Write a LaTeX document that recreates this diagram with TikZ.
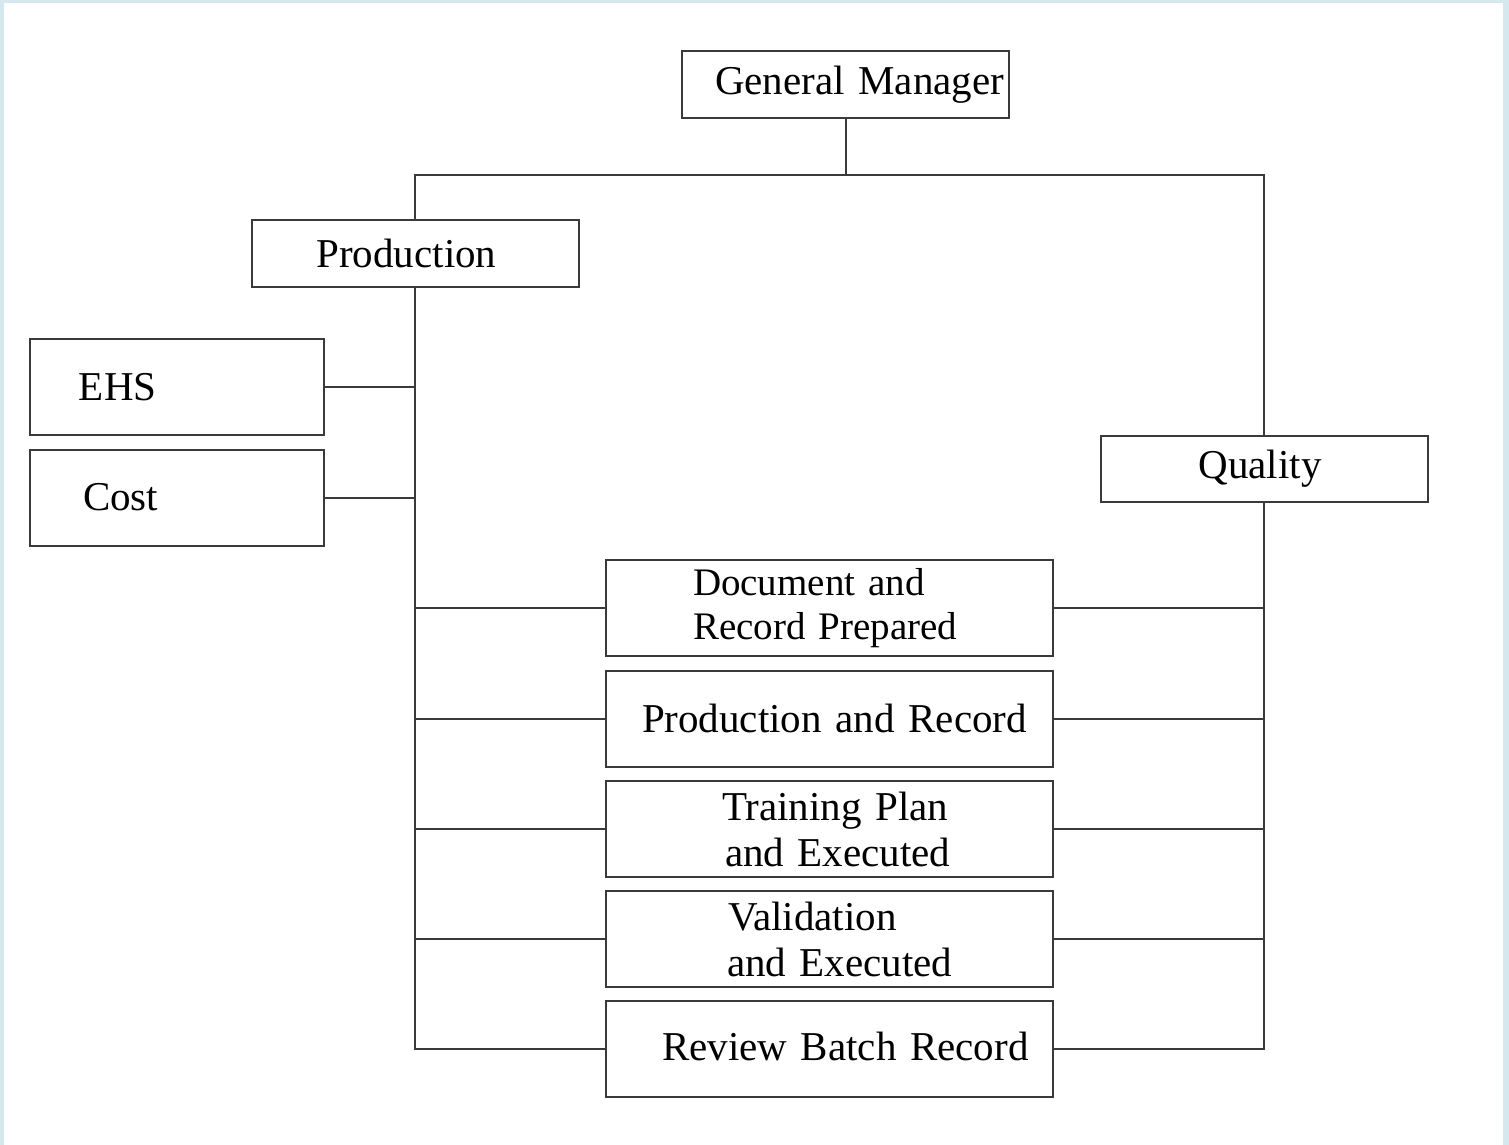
\documentclass[tikz,border=0pt]{standalone}
\usepackage{fontspec}
\setmainfont{Liberation Serif}
\definecolor{framebg}{HTML}{D4E8EE}
\definecolor{linegray}{HTML}{3A3A3A}

\tikzset{
  box/.style={draw=linegray, line width=1pt, inner xsep=0pt, inner ysep=0pt,
    align=left, font=\fontsize{20.5}{23}\selectfont},
  topbox/.style={box, text width=163.5pt, minimum height=33.5pt},
  sidebox/.style={box, text width=147pt, minimum height=48pt},
  taskbox/.style={box, text width=223.5pt, minimum height=48pt},
  link/.style={draw=linegray, line width=1pt},
}

\begin{document}
\begin{tikzpicture}[x=0.5pt,y=-0.5pt]
    % Frame
    \useasboundingbox (0,0) rectangle (1509,1145);
    \fill[framebg] (0,0) rectangle (1509,1145);
    \fill[white] (4,3) rectangle (1503,1145);

    % Main Boxes
    \node[topbox] (gm) at (845.5,84.5) {\hspace*{16.5pt}General Manager};
    \node[topbox] (prod) at (415,253.5) {\hspace*{32.5pt}Production};
    \node[topbox, minimum height=33pt] (qual) at (1264,469) {\hspace*{49pt}\raisebox{-1.5pt}{Quality}};

    % -- left side
    \node[sidebox] (ehs) at (177,387) {\hspace*{24.5pt}EHS};
    \node[sidebox] (cost) at (177,497.5) {\hspace*{26.5pt}\raisebox{-1.5pt}{Cost}};

    % -- tasks
    \node[taskbox, font=\fontsize{19.5}{22}\selectfont] (doc) at (829.5,608)
        {\hspace*{43.5pt}Document and\\\hspace*{43.5pt}Record Prepared};
    \node[taskbox] (prec) at (829.5,718.5) {\hspace*{18pt}Production and Record};
    \node[taskbox] (train) at (829.5,829) {\hspace*{58pt}Training Plan\\\hspace*{59.5pt}and Executed};
    \node[taskbox] (valid) at (829.5,939) {\hspace*{61pt}Validation\\\hspace*{60.5pt}and Executed};
    \node[taskbox] (rev) at (829.5,1049) {\hspace*{28pt}\raisebox{3pt}{Review Batch Record}};

    % Connectors
    \coordinate (bus) at (845.5,175);
    \draw[link] (gm.south) -- (bus);
    \draw[link] (prod.north) |- (bus) -| (qual.north);
    \draw[link] (prod.south) |- (rev.west);
    \draw[link] (qual.south) |- (rev.east);
    \draw[link] (ehs.east) -- (ehs.east -| prod.south);
    \draw[link] (cost.east) -- (cost.east -| prod.south);
    \foreach \n in {doc,prec,train,valid} {
        \draw[link] (\n.west) -- (\n.west -| prod.south);
        \draw[link] (\n.east) -- (\n.east -| qual.south);
    }
\end{tikzpicture}
\end{document}
